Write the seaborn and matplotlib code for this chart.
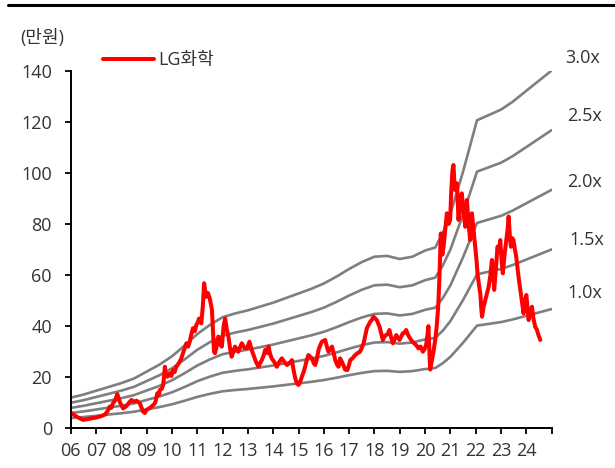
import numpy as np
import pandas as pd
import matplotlib
matplotlib.use("Agg")
import matplotlib.pyplot as plt
import seaborn as sns
from matplotlib.lines import Line2D

sns.set_theme(style="white")
# Latin/digits from Open Sans, Hangul falls back to the CJK family; set after set_theme
plt.rcParams["font.family"] = ["Open Sans", "Noto Sans CJK KR", "DejaVu Sans"]

# Book value per share (만원)
bps_year = [2006.0, 2006.5, 2007.0, 2007.5, 2008.0, 2008.5, 2009.0, 2009.5, 2010.0, 2010.5,
            2011.0, 2011.5, 2012.0, 2012.5, 2013.0, 2013.5, 2014.0, 2014.5, 2015.0, 2015.5,
            2016.0, 2016.5, 2017.0, 2017.5, 2018.0, 2018.5, 2019.0, 2019.5, 2020.0, 2020.4,
            2020.7, 2021.0, 2021.5, 2022.05, 2023.0, 2023.45, 2025.0]
bps_value = [4.0, 4.4, 4.9, 5.4, 5.9, 6.5, 7.4, 8.3, 9.4, 10.8,
             12.3, 13.5, 14.5, 15.0, 15.4, 15.9, 16.4, 17.0, 17.6, 18.2,
             18.9, 19.8, 20.8, 21.7, 22.4, 22.5, 22.1, 22.4, 23.2, 23.6,
             25.5, 28.0, 33.5, 40.2, 41.6, 42.6, 46.7]

# LG화학 share price (만원)
price_year = [
    2006.00, 2006.08, 2006.16, 2006.30, 2006.49, 2006.65, 2006.81, 2007.00, 2007.21, 2007.35,
    2007.45, 2007.54, 2007.60, 2007.67, 2007.76, 2007.84, 2007.90, 2007.94, 2008.00, 2008.07,
    2008.20, 2008.30, 2008.40, 2008.50, 2008.60, 2008.73, 2008.80, 2008.86, 2008.93, 2008.99,
    2009.10, 2009.19, 2009.30, 2009.35, 2009.42, 2009.48, 2009.52, 2009.60, 2009.65, 2009.68,
    2009.72, 2009.76, 2009.82, 2009.91, 2009.98, 2010.04, 2010.10, 2010.17, 2010.27, 2010.37,
    2010.47, 2010.57, 2010.64, 2010.70, 2010.77, 2010.83, 2010.90, 2010.96, 2011.02, 2011.07,
    2011.16, 2011.22, 2011.27, 2011.31, 2011.36, 2011.42, 2011.49, 2011.55, 2011.58, 2011.62,
    2011.66, 2011.70, 2011.76, 2011.83, 2011.90, 2011.97, 2012.04, 2012.10, 2012.16, 2012.23,
    2012.30, 2012.36, 2012.42, 2012.49, 2012.55, 2012.62, 2012.70, 2012.76, 2012.86, 2012.96,
    2013.06, 2013.14, 2013.22, 2013.32, 2013.42, 2013.48, 2013.55, 2013.62, 2013.68, 2013.76,
    2013.81, 2013.88, 2013.94, 2014.04, 2014.14, 2014.24, 2014.34, 2014.44, 2014.54, 2014.64,
    2014.74, 2014.80, 2014.87, 2014.94, 2015.00, 2015.06, 2015.13, 2015.20, 2015.26, 2015.32,
    2015.39, 2015.46, 2015.53, 2015.60, 2015.66, 2015.72, 2015.79, 2015.86, 2015.92, 2016.05,
    2016.12, 2016.18, 2016.25, 2016.32, 2016.40, 2016.45, 2016.52, 2016.58, 2016.64, 2016.71,
    2016.78, 2016.84, 2016.93, 2017.00, 2017.04, 2017.14, 2017.24, 2017.34, 2017.43, 2017.50,
    2017.57, 2017.64, 2017.70, 2017.77, 2017.83, 2017.90, 2017.96, 2018.03, 2018.09, 2018.15,
    2018.20, 2018.27, 2018.33, 2018.40, 2018.46, 2018.53, 2018.59, 2018.66, 2018.73, 2018.80,
    2018.86, 2018.93, 2018.99, 2019.06, 2019.12, 2019.19, 2019.25, 2019.33, 2019.41, 2019.49,
    2019.57, 2019.65, 2019.74, 2019.82, 2019.91, 2019.98, 2020.04, 2020.10, 2020.13, 2020.17,
    2020.20, 2020.24, 2020.27, 2020.33, 2020.40, 2020.46, 2020.52, 2020.57, 2020.62, 2020.68,
    2020.73, 2020.80, 2020.86, 2020.93, 2020.99, 2021.03, 2021.08, 2021.12, 2021.16, 2021.19,
    2021.26, 2021.32, 2021.39, 2021.45, 2021.52, 2021.59, 2021.65, 2021.72, 2021.78, 2021.85,
    2021.92, 2021.98, 2022.03, 2022.07, 2022.13, 2022.18, 2022.22, 2022.25, 2022.31, 2022.38,
    2022.45, 2022.51, 2022.58, 2022.64, 2022.69, 2022.73, 2022.80, 2022.86, 2022.92, 2022.97,
    2023.02, 2023.07, 2023.14, 2023.21, 2023.26, 2023.30, 2023.35, 2023.39, 2023.44, 2023.49,
    2023.55, 2023.60, 2023.65, 2023.69, 2023.75, 2023.80, 2023.85, 2023.89, 2023.95, 2024.00,
    2024.05, 2024.09, 2024.15, 2024.22, 2024.28, 2024.35, 2024.42, 2024.48, 2024.55]
price_value = [
    6.0, 5.6, 5.0, 4.2, 3.3, 3.6, 3.9, 4.2, 4.8, 5.4,
    6.6, 8.5, 8.0, 9.8, 11.0, 13.4, 11.5, 10.4, 9.0, 7.8,
    8.7, 10.0, 11.1, 10.4, 10.8, 9.8, 8.0, 6.5, 6.0, 7.2,
    7.8, 8.5, 9.5, 10.4, 13.7, 13.0, 15.0, 15.5, 17.0, 19.5,
    24.1, 21.0, 20.2, 21.5, 20.5, 22.8, 22.0, 24.1, 25.5, 27.4,
    30.5, 33.3, 32.0, 33.9, 37.0, 39.2, 38.0, 40.4, 41.5, 43.0,
    41.1, 48.0, 56.8, 54.0, 51.5, 53.0, 50.9, 48.0, 46.3, 38.0,
    30.0, 29.4, 32.0, 35.9, 33.0, 32.0, 40.0, 43.0, 39.0, 35.9,
    31.0, 28.0, 30.0, 32.0, 31.0, 30.0, 32.0, 33.3, 31.5, 31.3,
    33.9, 31.0, 28.7, 26.0, 24.1, 25.5, 26.7, 28.5, 30.7, 29.5,
    32.0, 29.0, 27.4, 26.0, 24.1, 26.0, 27.4, 26.0, 24.8, 25.5,
    26.7, 23.0, 19.6, 17.5, 17.0, 18.0, 20.2, 22.0, 24.1, 26.5,
    28.7, 28.0, 27.4, 25.5, 24.8, 27.0, 30.7, 32.5, 33.9, 34.6,
    32.0, 30.0, 31.0, 32.0, 29.0, 26.7, 25.0, 24.1, 27.4, 26.1,
    24.5, 23.0, 22.8, 25.0, 26.7, 27.5, 28.7, 29.5, 30.0, 31.5,
    33.3, 36.5, 39.2, 40.5, 41.7, 42.5, 43.7, 43.0, 42.4, 41.0,
    39.8, 37.0, 34.6, 36.0, 36.5, 37.0, 38.5, 35.5, 33.3, 35.0,
    36.5, 35.5, 34.6, 36.0, 37.2, 37.5, 38.5, 36.5, 35.2, 34.0,
    33.3, 32.5, 31.3, 32.0, 30.0, 31.0, 32.6, 37.0, 40.0, 30.0,
    23.0, 25.0, 26.7, 30.0, 34.6, 40.0, 48.0, 60.0, 76.3, 68.0,
    71.1, 78.0, 84.2, 80.0, 81.6, 92.0, 101.0, 103.1, 96.0, 93.3,
    95.9, 81.6, 88.0, 92.0, 84.0, 78.9, 89.4, 80.0, 73.7, 84.2,
    77.0, 71.1, 66.0, 60.7, 56.0, 52.9, 47.0, 43.7, 47.5, 50.2,
    53.0, 55.4, 60.0, 65.9, 60.0, 54.2, 63.0, 71.1, 70.0, 73.7,
    66.0, 60.7, 68.0, 73.7, 78.0, 82.9, 75.0, 71.1, 74.5, 73.7,
    70.0, 67.2, 63.0, 59.4, 55.0, 51.5, 48.0, 45.0, 50.0, 52.2,
    47.0, 42.4, 46.0, 47.6, 43.0, 39.8, 38.5, 36.5, 34.6]

pbr_multiples = [1.0, 1.5, 2.0, 2.5, 3.0]
pbr_labels = ["1.0x", "1.5x", "2.0x", "2.5x", "3.0x"]
x_ticks = list(range(2006, 2026))
x_labels = [f"{y % 100:02d}" for y in range(2006, 2025)] + [""]
y_ticks = [0, 20, 40, 60, 80, 100, 120, 140]

bands = pd.concat(
    [pd.DataFrame({"year": bps_year, "value": np.array(bps_value) * m, "band": lbl})
     for m, lbl in zip(pbr_multiples, pbr_labels)],
    ignore_index=True)
price = pd.DataFrame({"year": price_year, "value": price_value})

fig = plt.figure(figsize=(6.15, 4.68), dpi=100)
ax = fig.add_axes([0.115, 0.0848, 0.782, 0.764])

sns.lineplot(data=bands, x="year", y="value", hue="band", units="band", estimator=None,
             palette=["#7f7f7f"] * len(pbr_labels), linewidth=1.9, legend=False, ax=ax)
sns.lineplot(data=price, x="year", y="value", color="#ff0000", linewidth=2.9,
             estimator=None, ax=ax, label="LG화학")

ax.set_xlim(2006, 2025)
ax.set_ylim(0, 140)
ax.set_xticks(x_ticks, labels=x_labels)
ax.set_yticks(y_ticks)
ax.set(xlabel="", ylabel="")
ax.grid(False)

for side in ["top", "right"]:
    ax.spines[side].set_visible(False)
for side in ["left", "bottom"]:
    ax.spines[side].set_color("black")
    ax.spines[side].set_linewidth(1.4)

ax.tick_params(axis="both", direction="out", length=4.5, width=1.3, color="black",
               labelsize=13, labelcolor="#333333", bottom=True, left=True)
ax.tick_params(axis="x", pad=5)
ax.tick_params(axis="y", pad=9)

# band labels to the right of each line end
offsets = [(11, 11.5), (13, 6.5), (11, 5.5), (11, 10), (10, 9)]
last_bps = bps_value[-1]
for m, lbl, (dx, dy) in zip(pbr_multiples, pbr_labels, offsets):
    ax.annotate(lbl, xy=(bps_year[-1], m * last_bps), xytext=(dx, dy),
                textcoords="offset points", ha="left", va="center",
                fontsize=13, color="#333333", annotation_clip=False)

ax.legend(loc="center left", bbox_to_anchor=(0.1675, 0.872), bbox_transform=fig.transFigure,
          frameon=False, fontsize=13, handlelength=2.8, handletextpad=0.25,
          borderpad=0, borderaxespad=0, labelcolor="#333333")

fig.text(0.068, 0.919, "(만원)", ha="center", va="center", fontsize=13, color="#333333")
fig.add_artist(Line2D([0.013, 1.0], [0.989, 0.989], transform=fig.transFigure,
                      color="black", linewidth=2.2))

fig.savefig("out.png", dpi=100)
